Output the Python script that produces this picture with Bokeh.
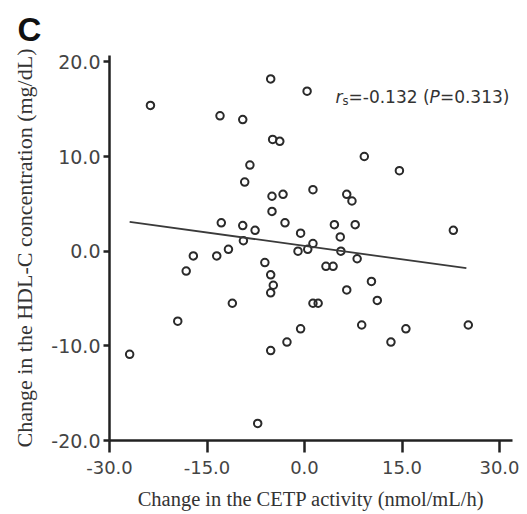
from bokeh.plotting import figure
from bokeh.models import FixedTicker, NumeralTickFormatter, Label, ColumnDataSource
from bokeh.embed import file_html
from bokeh.resources import INLINE

# ---- data ----
x_ticks = [-30, -15, 0, 15, 30]
y_ticks = [-20, -10, 0, 10, 20]

cetp_change = [-26.9, -23.7, -19.5, -18.2, -17.1, -13.0, -12.8, -13.5, -11.7, -11.1,
               -9.5, -9.5, -9.4, -9.2, -8.4, -7.6, -7.2, -6.1, -5.2, -5.2,
               -4.8, -5.2, -5.2, -5.0, -5.0, -4.9, -3.8, -3.3, -3.0, -2.7,
               -1.0, -0.6, -0.6, 0.4, 0.5, 1.3, 1.3, 1.3, 2.1, 3.3,
               4.4, 4.6, 5.5, 5.6, 6.5, 6.5, 7.3, 7.8, 8.1, 8.8,
               9.2, 10.3, 11.2, 13.3, 14.6, 15.6, 22.9, 25.2]
hdl_change = [-10.9, 15.4, -7.4, -2.1, -0.5, 14.3, 3.0, -0.5, 0.2, -5.5,
              13.9, 2.7, 1.1, 7.3, 9.1, 2.2, -18.2, -1.2, 18.2, -2.5,
              -3.6, -4.4, -10.5, 5.8, 4.2, 11.8, 11.6, 6.0, 3.0, -9.6,
              0.0, 1.9, -8.2, 16.9, 0.2, 6.5, 0.8, -5.5, -5.5, -1.6,
              -1.6, 2.8, 1.5, 0.0, 6.0, -4.1, 5.3, 2.8, -0.8, -7.8,
              10.0, -3.2, -5.2, -9.6, 8.5, -8.2, 2.2, -7.8]

fit_x = [-26.9, 24.9]
fit_y = [3.1, -1.8]

stat_r = "-0.132"
stat_p = "0.313"

x_title = "Change in the CETP activity (nmol/mL/h)"
y_title = "Change in the HDL-C concentration (mg/dL)"
panel_letter = "C"

# ---- figure ----
p = figure(width=527, height=514, x_range=(-30, 32), y_range=(-20, 20.67),
           output_backend="svg", toolbar_location=None,
           min_border_left=109, min_border_right=15,
           min_border_top=55, min_border_bottom=74)
p.outline_line_color = None
p.grid.visible = False
p.background_fill_color = "white"
p.border_fill_color = "white"

p.title.text = panel_letter
p.title.align = "left"
p.title.offset = -92
p.title.standoff = 15
p.title.text_font = "Liberation Sans"
p.title.text_font_style = "bold"
p.title.text_font_size = "33px"
p.title.text_color = "#111111"

for ax in (p.xaxis[0], p.yaxis[0]):
    ax.axis_line_width = 2.5
    ax.axis_line_color = "#222222"
    ax.major_tick_line_width = 2.5
    ax.major_tick_line_color = "#222222"
    ax.major_tick_in = 0
    ax.minor_tick_out = 0
    ax.minor_tick_in = 0
    ax.major_label_text_font = "DejaVu Sans"
    ax.major_label_text_color = "#444444"
    ax.formatter = NumeralTickFormatter(format="0.0")
    ax.axis_label_text_font = "Liberation Serif"
    ax.axis_label_text_font_style = "normal"
    ax.axis_label_text_color = "#333333"

p.xaxis.ticker = FixedTicker(ticks=x_ticks)
p.yaxis.ticker = FixedTicker(ticks=y_ticks)
p.xaxis.major_tick_out = 12
p.yaxis.major_tick_out = 6
p.xaxis.major_label_standoff = 8
p.yaxis.major_label_standoff = 3
p.xaxis.major_label_text_font_size = "18px"
p.yaxis.major_label_text_font_size = "19px"

p.xaxis.axis_label = x_title
p.xaxis.axis_label_text_font_size = "20.5px"
p.xaxis.axis_label_standoff = 11

p.yaxis.axis_label = y_title
p.yaxis.axis_label_text_font_size = "22px"
p.yaxis.axis_label_standoff = 11

# ---- marks ----
src = ColumnDataSource(dict(x=cetp_change, y=hdl_change))
p.scatter("x", "y", source=src, marker="circle", size=7.5, fill_color=None,
          line_color="#2a2a2a", line_width=2.0)
p.line(fit_x, fit_y, line_color="#3a3a3a", line_width=1.8)

# ---- annotation ----
ax0, ay0 = 4.77, 16.27
pieces = [
    ("r", 0.0, 0, "italic", "17px"),
    ("s", 7.0, -4, "normal", "11.5px"),
    ("=" + stat_r + " (", 13.0, 0, "normal", "17px"),
    ("P", 94.1, 0, "italic", "17px"),
    ("=" + stat_p + ")", 104.4, 0, "normal", "17px"),
]
for txt, dx, dy, style, size in pieces:
    p.add_layout(Label(x=ax0, y=ay0, x_offset=dx, y_offset=dy, text=txt,
                       text_align="left", text_baseline="alphabetic",
                       text_font="DejaVu Sans", text_font_style=style,
                       text_font_size=size, text_color="#333333"))

open("out.html", "w").write(file_html(p, INLINE))
